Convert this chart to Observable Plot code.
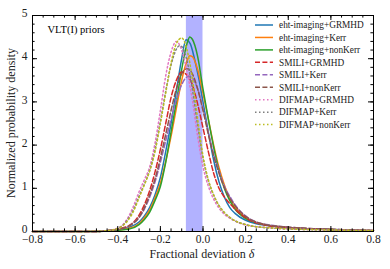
<!DOCTYPE html>
<html>
<head>
<meta charset="utf-8">
<script src="https://cdn.jsdelivr.net/npm/d3@7"></script>
<script src="https://cdn.jsdelivr.net/npm/@observablehq/plot@0.6"></script>
<style>
  body { margin: 0; background: white; }
  #wrap { position: relative; width: 390px; height: 269px; font-family: 'Liberation Serif', serif; color: #222; }
  #wrap svg text { font-family: 'Liberation Serif', serif; }
  .abs { position: absolute; white-space: nowrap; }
</style>
</head>
<body>
<div id="wrap"></div>
<script>
// ---- data ----
const seriesNames = [
  "eht-imaging+GRMHD", "eht-imaging+Kerr", "eht-imaging+nonKerr",
  "SMILI+GRMHD", "SMILI+Kerr", "SMILI+nonKerr",
  "DIFMAP+GRMHD", "DIFMAP+Kerr", "DIFMAP+nonKerr"
];
const seriesColors = ["#1f77b4", "#ff7f0e", "#2ca02c", "#d62728", "#9467bd", "#8c564b", "#e377c2", "#7f7f7f", "#bcbd22"];
const seriesStyles = ["solid", "solid", "solid", "dashed", "dashed", "dashed", "dotted", "dotted", "dotted"];

const ehtGRMHD = [[-0.8,0],[-0.5,0],[-0.45,0.01],[-0.4,0.04],[-0.35,0.09],[-0.3,0.22],[-0.275,0.36],[-0.25,0.56],[-0.225,0.85],[-0.2,1.25],[-0.175,1.85],[-0.15,2.5],[-0.125,3.25],[-0.1,4.0],[-0.08,4.44],[-0.06,4.35],[-0.04,4.0],[-0.02,3.55],[0,3.0],[0.025,2.3],[0.05,1.65],[0.075,1.15],[0.1,0.8],[0.125,0.56],[0.15,0.42],[0.2,0.26],[0.25,0.18],[0.3,0.14],[0.4,0.09],[0.5,0.06],[0.6,0.045],[0.7,0.03],[0.8,0.02]];
const ehtKerr = [[-0.8,0],[-0.5,0],[-0.45,0.01],[-0.4,0.035],[-0.35,0.07],[-0.3,0.18],[-0.275,0.32],[-0.25,0.5],[-0.225,0.78],[-0.2,1.12],[-0.175,1.62],[-0.15,2.2],[-0.125,2.85],[-0.1,3.5],[-0.075,3.95],[-0.062,4.07],[-0.05,4.05],[-0.025,3.75],[0,3.2],[0.025,2.6],[0.05,2.0],[0.075,1.48],[0.1,1.08],[0.125,0.76],[0.15,0.56],[0.2,0.32],[0.25,0.21],[0.3,0.15],[0.4,0.09],[0.5,0.065],[0.6,0.045],[0.7,0.03],[0.8,0.02]];
const ehtNonKerr = [[-0.8,0],[-0.5,0],[-0.45,0.01],[-0.4,0.03],[-0.35,0.05],[-0.3,0.16],[-0.275,0.28],[-0.25,0.45],[-0.225,0.72],[-0.2,1.04],[-0.175,1.6],[-0.15,2.3],[-0.125,3.0],[-0.1,3.75],[-0.075,4.35],[-0.062,4.5],[-0.05,4.45],[-0.025,4.05],[0,3.3],[0.025,2.6],[0.05,1.95],[0.075,1.4],[0.1,1.0],[0.125,0.72],[0.15,0.52],[0.2,0.3],[0.25,0.2],[0.3,0.15],[0.4,0.09],[0.5,0.065],[0.6,0.045],[0.7,0.03],[0.8,0.02]];
const smiliGRMHD = [[-0.8,0],[-0.5,0],[-0.45,0.02],[-0.4,0.06],[-0.35,0.13],[-0.325,0.22],[-0.3,0.38],[-0.275,0.62],[-0.25,0.95],[-0.225,1.38],[-0.2,1.9],[-0.175,2.5],[-0.15,3.1],[-0.125,3.5],[-0.1,3.69],[-0.075,3.62],[-0.05,3.4],[-0.025,2.95],[0,2.4],[0.025,1.85],[0.05,1.35],[0.075,1.0],[0.1,0.8],[0.125,0.65],[0.15,0.52],[0.2,0.32],[0.25,0.2],[0.3,0.14],[0.4,0.09],[0.5,0.06],[0.6,0.045],[0.7,0.03],[0.8,0.02]];
const smiliKerr = [[-0.8,0],[-0.5,0],[-0.45,0.02],[-0.4,0.05],[-0.35,0.12],[-0.325,0.2],[-0.3,0.32],[-0.275,0.52],[-0.25,0.8],[-0.225,1.15],[-0.2,1.6],[-0.175,2.1],[-0.15,2.6],[-0.125,3.05],[-0.1,3.4],[-0.075,3.58],[-0.06,3.6],[-0.05,3.55],[-0.025,3.3],[0,2.85],[0.025,2.3],[0.05,1.8],[0.075,1.4],[0.1,1.05],[0.125,0.82],[0.15,0.62],[0.2,0.36],[0.25,0.22],[0.3,0.16],[0.4,0.1],[0.5,0.07],[0.6,0.05],[0.7,0.035],[0.8,0.025]];
const smiliNonKerr = [[-0.8,0],[-0.5,0],[-0.45,0.02],[-0.4,0.05],[-0.35,0.12],[-0.325,0.2],[-0.3,0.33],[-0.275,0.55],[-0.25,0.85],[-0.225,1.22],[-0.2,1.7],[-0.175,2.25],[-0.15,2.8],[-0.125,3.3],[-0.1,3.65],[-0.075,3.77],[-0.05,3.65],[-0.025,3.3],[0,2.8],[0.025,2.25],[0.05,1.75],[0.075,1.35],[0.1,1.02],[0.125,0.78],[0.15,0.6],[0.2,0.35],[0.25,0.22],[0.3,0.15],[0.4,0.1],[0.5,0.07],[0.6,0.05],[0.7,0.035],[0.8,0.025]];
const difmapGRMHD = [[-0.8,0],[-0.5,0.005],[-0.45,0.02],[-0.425,0.04],[-0.4,0.08],[-0.375,0.16],[-0.35,0.34],[-0.325,0.6],[-0.3,0.92],[-0.275,1.2],[-0.25,1.5],[-0.225,2.05],[-0.2,2.8],[-0.175,3.6],[-0.15,4.15],[-0.125,4.4],[-0.1,4.2],[-0.075,3.7],[-0.05,3.05],[-0.025,2.2],[0,1.5],[0.025,1.05],[0.05,0.75],[0.075,0.54],[0.1,0.4],[0.125,0.31],[0.15,0.24],[0.2,0.15],[0.25,0.11],[0.3,0.09],[0.4,0.06],[0.5,0.045],[0.6,0.035],[0.7,0.025],[0.8,0.02]];
const difmapKerr = [[-0.8,0],[-0.5,0.004],[-0.45,0.02],[-0.4,0.07],[-0.375,0.15],[-0.35,0.3],[-0.325,0.52],[-0.3,0.82],[-0.275,1.1],[-0.25,1.42],[-0.225,1.9],[-0.2,2.55],[-0.175,3.25],[-0.15,3.85],[-0.125,4.22],[-0.11,4.3],[-0.1,4.28],[-0.075,3.95],[-0.05,3.3],[-0.025,2.45],[0,1.7],[0.025,1.18],[0.05,0.84],[0.075,0.6],[0.1,0.44],[0.125,0.33],[0.15,0.25],[0.2,0.16],[0.25,0.11],[0.3,0.09],[0.4,0.06],[0.5,0.045],[0.6,0.035],[0.7,0.025],[0.8,0.02]];
const difmapNonKerr = [[-0.8,0],[-0.5,0.004],[-0.45,0.02],[-0.4,0.07],[-0.375,0.14],[-0.35,0.27],[-0.325,0.48],[-0.3,0.78],[-0.275,1.08],[-0.25,1.4],[-0.225,1.85],[-0.2,2.5],[-0.175,3.2],[-0.15,3.9],[-0.125,4.35],[-0.1,4.48],[-0.075,4.2],[-0.05,3.55],[-0.025,2.6],[0,1.75],[0.025,1.2],[0.05,0.85],[0.075,0.6],[0.1,0.44],[0.125,0.33],[0.15,0.25],[0.2,0.16],[0.25,0.11],[0.3,0.09],[0.4,0.06],[0.5,0.045],[0.6,0.035],[0.7,0.025],[0.8,0.02]];

const seriesData = [ehtGRMHD, ehtKerr, ehtNonKerr, smiliGRMHD, smiliKerr, smiliNonKerr, difmapGRMHD, difmapKerr, difmapNonKerr];

const bandRange = [-0.078, 0.0];
const xMajorTicks = [-0.8, -0.6, -0.4, -0.2, 0.0, 0.2, 0.4, 0.6, 0.8];
const xMinorTicks = d3.range(-16, 17).map(i => i * 0.05);
const yMajorTicks = [0, 1, 2, 3, 4, 5];
const yMinorTicks = d3.range(0, 26).map(i => i * 0.2);
const xTitle = "Fractional deviation ";
const yTitle = "Normalized probability density";
const annotation = "VLT(I) priors";

// ---- drawing ----
const FONT = "'Liberation Serif', serif";
const W = 390, H = 269, mL = 32, mR = 17, mT = 15, mB = 38;
const dashOf = s => s === "dashed" ? "5,2.4" : s === "dotted" ? "1.5,2.5" : null;
const fmtX = d => Math.abs(d) < 1e-9 ? "0.0" : (d < 0 ? "\u2212" : "") + Math.abs(d).toFixed(1);

const pxX = 1.6 / (W - mL - mR), pxY = 5 / (H - mT - mB);
const majX = 5 * pxY, minX = 2.6 * pxY;
const majY = 5 * pxX, minY = 2.6 * pxX;

const lineMarks = seriesData.map((arr, i) => Plot.line(arr, {
  x: d => d[0], y: d => d[1], stroke: seriesColors[i], strokeWidth: 1.5,
  strokeDasharray: dashOf(seriesStyles[i]), curve: "monotone-x"
}));

const chart = Plot.plot({
  width: W, height: H, marginLeft: mL, marginRight: mR, marginTop: mT, marginBottom: mB,
  x: { domain: [-0.8, 0.8], label: null },
  y: { domain: [0, 5], label: null },
  style: { fontFamily: FONT, fontSize: "11.5px", background: "white", color: "#222" },
  marks: [
    Plot.rect([bandRange], { x1: d => d[0], x2: d => d[1], y1: 0, y2: 5, fill: "#0000ff", fillOpacity: 0.3 }),
    ...lineMarks,
    Plot.axisX(xMajorTicks, { tickSize: 0, tickPadding: 3.5, tickFormat: fmtX, label: null, fontSize: 11.5 }),
    Plot.axisY(yMajorTicks, { tickSize: 0, tickPadding: 5, dy: -2, tickFormat: d => String(d), label: null, fontSize: 11.5 }),
    Plot.ruleX(xMajorTicks, { y1: 0, y2: majX, stroke: "black" }),
    Plot.ruleX(xMinorTicks, { y1: 0, y2: minX, stroke: "black" }),
    Plot.ruleX(xMajorTicks, { y1: 5, y2: 5 - majX, stroke: "black" }),
    Plot.ruleX(xMinorTicks, { y1: 5, y2: 5 - minX, stroke: "black" }),
    Plot.ruleY(yMajorTicks, { x1: -0.8, x2: -0.8 + majY, stroke: "black" }),
    Plot.ruleY(yMinorTicks, { x1: -0.8, x2: -0.8 + minY, stroke: "black" }),
    Plot.ruleY(yMajorTicks, { x1: 0.8, x2: 0.8 - majY, stroke: "black" }),
    Plot.ruleY(yMinorTicks, { x1: 0.8, x2: 0.8 - minY, stroke: "black" }),
    Plot.text([annotation], { frameAnchor: "top-left", dx: 15, dy: 10, fontSize: 10.5, fontWeight: "normal", fill: "black", text: d => d }),
    Plot.frame({ stroke: "black", strokeWidth: 1 })
  ]
});

const wrap = document.getElementById("wrap");
wrap.appendChild(chart);

// axis titles
const xt = document.createElement("div");
xt.className = "abs";
xt.style.cssText = "left:0px;width:404px;text-align:center;top:248px;font-size:12px;line-height:12px;";
xt.innerHTML = xTitle + "<i>δ</i>";
wrap.appendChild(xt);

const yt = document.createElement("div");
yt.className = "abs";
yt.style.cssText = "left:11px;top:123px;font-size:12px;line-height:12px;transform:translate(-50%,-50%) rotate(-90deg);";
yt.textContent = yTitle;
wrap.appendChild(yt);

// legend
const leg = d3.select(wrap).append("svg").attr("class", "abs")
  .attr("width", 135).attr("height", 125)
  .style("left", "250px").style("top", "17px");
seriesNames.forEach((name, i) => {
  const y = 8 + i * 12.45;
  leg.append("line").attr("x1", 5).attr("x2", 23).attr("y1", y).attr("y2", y)
    .attr("stroke", seriesColors[i]).attr("stroke-width", 1.5)
    .attr("stroke-dasharray", dashOf(seriesStyles[i]));
  leg.append("text").attr("x", 29).attr("y", y + 3.3).text(name)
    .attr("font-size", 9.3).attr("font-family", FONT).attr("fill", "#222");
});
</script>
</body>
</html>
